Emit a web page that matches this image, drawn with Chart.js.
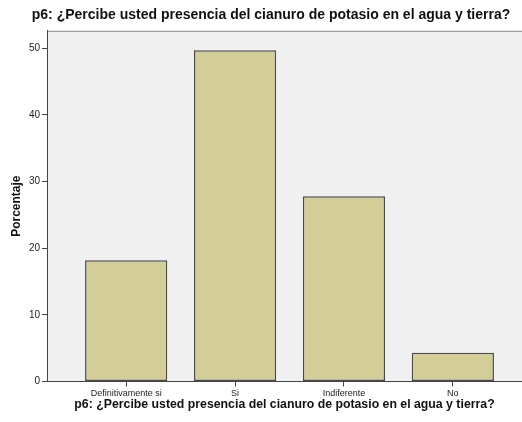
<!DOCTYPE html>
<html>
<head>
<meta charset="utf-8">
<script src="https://cdn.jsdelivr.net/npm/chart.js@4"></script>
<style>
    html, body { margin: 0; padding: 0; background: #fff; }
    #wrap { width: 522px; height: 422px; }
</style>
</head>
<body>
<div id="wrap"><canvas id="chart" width="522" height="422"></canvas></div>
<script>
const titulo = 'p6: ¿Percibe usted presencia del cianuro de potasio en el agua y tierra?';
const categorias = ['Definitivamente si', 'Si', 'Indiferente', 'No'];
const porcentajes = [18.2, 49.7, 27.8, 4.3];
const yTicks = [0, 10, 20, 30, 40, 50];

const fuente = 'Arial, "Liberation Sans", sans-serif';

// fondo gris del area de trazado (estilo SPSS)
const fondoPlot = {
    id: 'fondoPlot',
    beforeDraw: (chart) => {
        const { ctx, chartArea: a } = chart;
        ctx.save();
        ctx.fillStyle = '#f0f0f0';
        ctx.fillRect(a.left, a.top, chart.width - a.left, a.bottom - a.top);
        ctx.strokeStyle = '#888';
        ctx.lineWidth = 1;
        ctx.beginPath();
        ctx.moveTo(a.left, a.top + 0.5);
        ctx.lineTo(chart.width, a.top + 0.5);
        ctx.stroke();
        ctx.restore();
    }
};

const ctx = document.getElementById('chart').getContext('2d');

new Chart(ctx, {
    type: 'bar',
    data: {
        datasets: [{
            label: 'Porcentaje',
            data: categorias.map((c, i) => ({ x: i, y: porcentajes[i] })),
            backgroundColor: '#d3ce97',
            borderColor: '#4a4a4a',
            borderWidth: 1.5,
            borderSkipped: false,
            categoryPercentage: 1,
            barPercentage: 0.755
        }]
    },
    options: {
        responsive: false,
        animation: false,
        layout: { padding: { top: 0, left: 0, bottom: 0, right: -20 } },
        plugins: {
            legend: { display: false },
            tooltip: { enabled: false },
            title: {
                display: true,
                text: titulo,
                color: '#111',
                font: { family: fuente, size: 14, weight: 'bold' },
                padding: { top: 7, bottom: 7 }
            }
        },
        scales: {
            x: {
                type: 'linear',
                offset: false,
                min: -0.727,
                max: 3.635,
                afterBuildTicks: (scale) => {
                    scale.ticks = categorias.map((_, i) => ({ value: i }));
                },
                afterFit: (scale) => { scale.height = 40.5; },
                ticks: {
                    color: '#222',
                    font: { family: fuente, size: 9 },
                    padding: 2,
                    maxRotation: 0,
                    autoSkip: false,
                    callback: (v) => categorias[v]
                },
                grid: {
                    offset: false,
                    drawOnChartArea: false,
                    drawTicks: true,
                    tickLength: 5,
                    color: '#444'
                },
                border: { display: true, color: '#444', width: 1 },
                title: {
                    display: true,
                    text: titulo,
                    color: '#111',
                    font: { family: fuente, size: 12.3, weight: 'bold' },
                    padding: { top: 0, bottom: 10 }
                }
            },
            y: {
                min: 0,
                max: 52.6,
                afterBuildTicks: (scale) => {
                    scale.ticks = yTicks.map(v => ({ value: v }));
                },
                afterFit: (scale) => { scale.width = 47; },
                ticks: {
                    color: '#222',
                    font: { family: fuente, size: 10 },
                    padding: 2
                },
                grid: {
                    drawOnChartArea: false,
                    drawTicks: true,
                    tickLength: 5,
                    color: '#444'
                },
                border: { display: true, color: '#444', width: 1 },
                title: {
                    display: true,
                    text: 'Porcentaje',
                    color: '#111',
                    font: { family: fuente, size: 12, weight: 'bold' },
                    padding: { top: 9, bottom: 0 }
                }
            }
        }
    },
    plugins: [fondoPlot]
});
</script>
</body>
</html>
